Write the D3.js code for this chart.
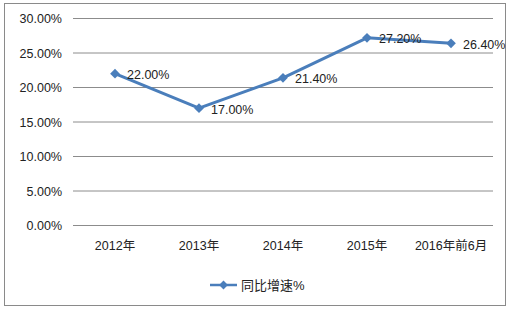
<!DOCTYPE html>
<html>
<head>
<meta charset="utf-8">
<script src="https://cdn.jsdelivr.net/npm/d3@7"></script>
<style>
  body { margin: 0; background: #fff; }
  text { font-family: "Liberation Sans", "Noto Sans CJK SC", sans-serif; font-size: 12.5px; fill: #222; }
</style>
</head>
<body>
<svg id="chart" width="510" height="309"></svg>
<script>
var categories = ["2012年", "2013年", "2014年", "2015年", "2016年前6月"];
var growth = [22.0, 17.0, 21.4, 27.2, 26.4];
var yTicks = [0, 5, 10, 15, 20, 25, 30];
var seriesName = "同比增速%";

var svg = d3.select("#chart");
var color = "#4a7ebb";

// outer frame
svg.append("rect")
  .attr("x", 4.5).attr("y", 3.5)
  .attr("width", 501).attr("height", 302)
  .attr("fill", "#fff").attr("stroke", "#8a8a8a");

var x = d3.scaleBand().domain(categories).range([73, 493]);
var y = d3.scaleLinear().domain([0, 30]).range([225.5, 18.5]);

// gridlines
svg.append("g").selectAll("line")
  .data(yTicks)
  .join("line")
  .attr("x1", 73).attr("x2", 493)
  .attr("y1", d => y(d)).attr("y2", d => y(d))
  .attr("stroke", "#8c8c8c").attr("stroke-width", 1);

// y axis labels
var yAxis = d3.axisLeft(y).tickValues(yTicks)
  .tickFormat(d => d.toFixed(2) + "%").tickSize(0).tickPadding(11);
svg.append("g").attr("transform", "translate(73,0)").call(yAxis)
  .call(g => g.select(".domain").remove())
  .selectAll("text").style("font-size", "12.5px").attr("fill", "#222");

// x axis labels
var xAxis = d3.axisBottom(x).tickSize(0).tickPadding(16);
svg.append("g").attr("transform", "translate(0,225.5)").call(xAxis)
  .call(g => g.select(".domain").remove())
  .selectAll("text").style("font-size", "12.5px").attr("fill", "#222");

var cx = d => x(d) + x.bandwidth() / 2;
var line = d3.line().x((d, i) => cx(categories[i])).y(d => y(d));

svg.append("path")
  .datum(growth)
  .attr("d", line)
  .attr("fill", "none")
  .attr("stroke", color)
  .attr("stroke-width", 3)
  .attr("stroke-linejoin", "round");

var diamond = d3.symbol().type(d3.symbolDiamond2).size(60);
svg.append("g").selectAll("path")
  .data(growth)
  .join("path")
  .attr("d", diamond)
  .attr("transform", (d, i) => "translate(" + cx(categories[i]) + "," + y(d) + ")")
  .attr("fill", color);

// data labels
svg.append("g").selectAll("text")
  .data(growth)
  .join("text")
  .attr("x", (d, i) => cx(categories[i]) + 12)
  .attr("y", d => y(d) + 5.5)
  .text(d => d.toFixed(2) + "%");

// legend
var lg = svg.append("g").attr("transform", "translate(210,285)");
lg.append("line").attr("x1", 0).attr("x2", 27).attr("stroke", color).attr("stroke-width", 2.5);
lg.append("path").attr("d", d3.symbol().type(d3.symbolDiamond2).size(50)).attr("transform", "translate(13.5,0)").attr("fill", color);
lg.append("text").attr("x", 31).attr("y", 5).style("font-size", "13px").text(seriesName);
</script>
</body>
</html>
